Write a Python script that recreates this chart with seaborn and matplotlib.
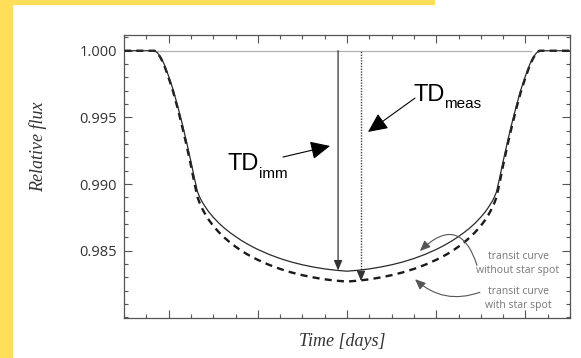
import numpy as np
import pandas as pd
import matplotlib
matplotlib.use("Agg")
import matplotlib.pyplot as plt
import seaborn as sns
from matplotlib.ticker import MultipleLocator
from matplotlib.patches import Rectangle

# time axis (arbitrary units, transit centre at 10)
time = [0.0, 1.0, 1.37, 1.5, 1.65, 1.8, 2.0, 2.2, 2.4, 2.6, 2.8, 3.0, 3.15, 3.3,
        3.4, 3.5, 3.65, 3.8, 4.0, 4.25, 4.5, 4.75, 5.0, 5.25, 5.5, 5.75, 6.0,
        6.5, 7.0, 7.5, 8.0, 8.5, 9.0, 9.5, 10.0,
        10.5, 11.0, 11.5, 12.0, 12.5, 13.0, 13.5, 14.0, 14.25, 14.5, 14.75, 15.0,
        15.25, 15.5, 15.75, 16.0, 16.2, 16.35, 16.5, 16.6, 16.7, 16.85, 17.0,
        17.2, 17.4, 17.6, 17.8, 18.0, 18.2, 18.35, 18.5, 18.63, 19.0, 20.0]

# transit curve without star spot
flux_clean = [1.0000, 1.0000, 1.0000, 0.99985, 0.9995, 0.9990, 0.9981, 0.9971,
              0.9959, 0.9946, 0.9932, 0.9917, 0.9905, 0.9894,
              0.9890, 0.98868, 0.98828, 0.98792, 0.98752, 0.98708, 0.98670,
              0.98637, 0.98607, 0.98579, 0.98554, 0.98531, 0.98510,
              0.98473, 0.98442, 0.98416, 0.98395, 0.98378, 0.98364, 0.98354, 0.98347,
              0.98354, 0.98364, 0.98378, 0.98395, 0.98416, 0.98442, 0.98473, 0.98510,
              0.98531, 0.98554, 0.98579, 0.98607, 0.98637, 0.98670, 0.98708, 0.98752,
              0.98792, 0.98828, 0.98868, 0.9890, 0.9894,
              0.9905, 0.9917, 0.9932, 0.9946, 0.9959, 0.9971, 0.9981, 0.9990,
              0.9995, 0.99985, 1.0000, 1.0000, 1.0000]

# transit curve with star spot
flux_spot = [1.0000, 1.0000, 1.0000, 0.99984, 0.99945, 0.99892, 0.99798, 0.99695,
             0.99572, 0.99438, 0.99295, 0.99140, 0.99015, 0.98900,
             0.98855, 0.98818, 0.98772, 0.98732, 0.98687, 0.98640, 0.98599,
             0.98563, 0.98531, 0.98502, 0.98476, 0.98453, 0.98432,
             0.98395, 0.98364, 0.98338, 0.98317, 0.98300, 0.98286, 0.98276, 0.98269,
             0.98276, 0.98286, 0.98300, 0.98317, 0.98338, 0.98364, 0.98395, 0.98432,
             0.98453, 0.98476, 0.98502, 0.98531, 0.98563, 0.98599, 0.98640, 0.98687,
             0.98732, 0.98772, 0.98818, 0.98855, 0.98900,
             0.99015, 0.99140, 0.99295, 0.99438, 0.99572, 0.99695, 0.99798, 0.99892,
             0.99945, 0.99984, 1.0000, 1.0000, 1.0000]

yticks = [0.985, 0.990, 0.995, 1.000]
ytick_labels = ["0.985", "0.990", "0.995", "1.000"]

# depth markers
td_imm_x, td_imm_y = 9.6, 0.98352
td_meas_x, td_meas_y = 10.63, 0.98272

df = pd.DataFrame({"time": time, "clean": flux_clean, "spot": flux_spot})

sns.set_theme(style="ticks")
plt.rcParams["font.family"] = ["Open Sans", "DejaVu Sans"]

fig = plt.figure(figsize=(5.81, 3.58), dpi=100)
fig.patch.set_facecolor("white")
ax = fig.add_axes([124 / 581, 1 - 318 / 358, 446 / 581, 283 / 358])

# yellow page border
fig.patches.append(Rectangle((0, 0), 12 / 581, 1, transform=fig.transFigure,
                             color="#FFDE59", zorder=-1))
fig.patches.append(Rectangle((0, 1 - 4 / 358), 434 / 581, 4 / 358,
                             transform=fig.transFigure, color="#FFDE59", zorder=-1))

ax.hlines(1.0, 1.3, 18.3, color="#b0b0b0", lw=0.9, zorder=1)
sns.lineplot(data=df, x="time", y="clean", ax=ax, color="#2a2a2a", lw=0.9,
             sort=False, zorder=3)
sns.lineplot(data=df, x="time", y="spot", ax=ax, color="#1a1a1a", lw=1.7,
             linestyle=(0, (3, 2.2)), sort=False, zorder=2)

# transit depth arrows
ax.annotate("", xy=(td_imm_x, td_imm_y), xytext=(td_imm_x, 1.0),
            arrowprops=dict(arrowstyle="-|>,head_length=0.6,head_width=0.25",
                            color="#333333", lw=0.9, mutation_scale=10,
                            shrinkA=0, shrinkB=0))
ax.vlines(td_meas_x, td_meas_y + 0.0005, 1.0, color="#444444", lw=1.0,
          linestyles=(0, (1, 1)))
ax.annotate("", xy=(td_meas_x, td_meas_y), xytext=(td_meas_x, td_meas_y + 0.0006),
            arrowprops=dict(arrowstyle="-|>,head_length=0.6,head_width=0.25",
                            color="#333333", lw=0.9, mutation_scale=10,
                            shrinkA=0, shrinkB=0))

big = dict(arrowstyle="-|>,head_length=0.6,head_width=0.28", color="black",
           lw=0.8, mutation_scale=20, shrinkA=0, shrinkB=0)
ax.annotate("", xy=(9.24, 0.99286), xytext=(7.13, 0.99203), arrowprops=big)
ax.annotate("", xy=(10.94, 0.99391), xytext=(13.05, 0.99645), arrowprops=big)

tdfont = ["Liberation Sans", "DejaVu Sans"]
ax.text(4.66, 0.99106, "TD", fontsize=17, family=tdfont, color="black", va="baseline")
ax.text(6.05, 0.99046, "imm", fontsize=11, family=tdfont, color="black", va="baseline")
ax.text(12.96, 0.99623, "TD", fontsize=17, family=tdfont, color="black", va="baseline")
ax.text(14.35, 0.99570, "meas", fontsize=11, family=tdfont, color="black", va="baseline")

# curve labels
ax.text(17.67, 0.98405, "transit curve\nwithout star spot", fontsize=7.5,
        color="#777777", ha="center", va="center", linespacing=1.35)
ax.text(17.67, 0.98145, "transit curve\nwith star spot", fontsize=7.5,
        color="#777777", ha="center", va="center", linespacing=1.35)
small = dict(arrowstyle="-|>,head_length=0.7,head_width=0.3", color="#555555",
             lw=0.8, mutation_scale=9, shrinkA=0, shrinkB=0)
ax.annotate("", xy=(13.27, 0.98498), xytext=(15.83, 0.98391),
            arrowprops=dict(small, connectionstyle="arc3,rad=0.8"))
ax.annotate("", xy=(13.05, 0.98287), xytext=(15.96, 0.98189),
            arrowprops=dict(small, connectionstyle="arc3,rad=-0.3"))

ax.set_xlim(0, 20)
ax.set_ylim(0.97996, 1.00118)
ax.set_yticks(yticks)
ax.set_yticklabels(ytick_labels)
ax.yaxis.set_minor_locator(MultipleLocator(0.001))
ax.set_xticks([2, 6, 10, 14, 18])
ax.set_xticklabels([])
ax.xaxis.set_minor_locator(MultipleLocator(1))
ax.tick_params(which="both", direction="in", top=True, right=True,
               color="#555555", width=0.8, labelsize=10.5, labelcolor="#333333", pad=5)
ax.tick_params(which="major", length=6)
ax.tick_params(which="minor", length=3)
for s in ax.spines.values():
    s.set_color("#555555")
    s.set_linewidth(0.9)

serif = ["Liberation Serif", "DejaVu Serif"]
ax.set_xlabel("Time [days]", fontsize=13, style="italic", family=serif, color="#333333")
ax.set_ylabel("Relative flux", fontsize=13, style="italic", family=serif, color="#333333")
ax.xaxis.set_label_coords(0.489, -0.053)
ax.yaxis.set_label_coords(-0.172, 0.604)

fig.savefig("out.png", dpi=100)
